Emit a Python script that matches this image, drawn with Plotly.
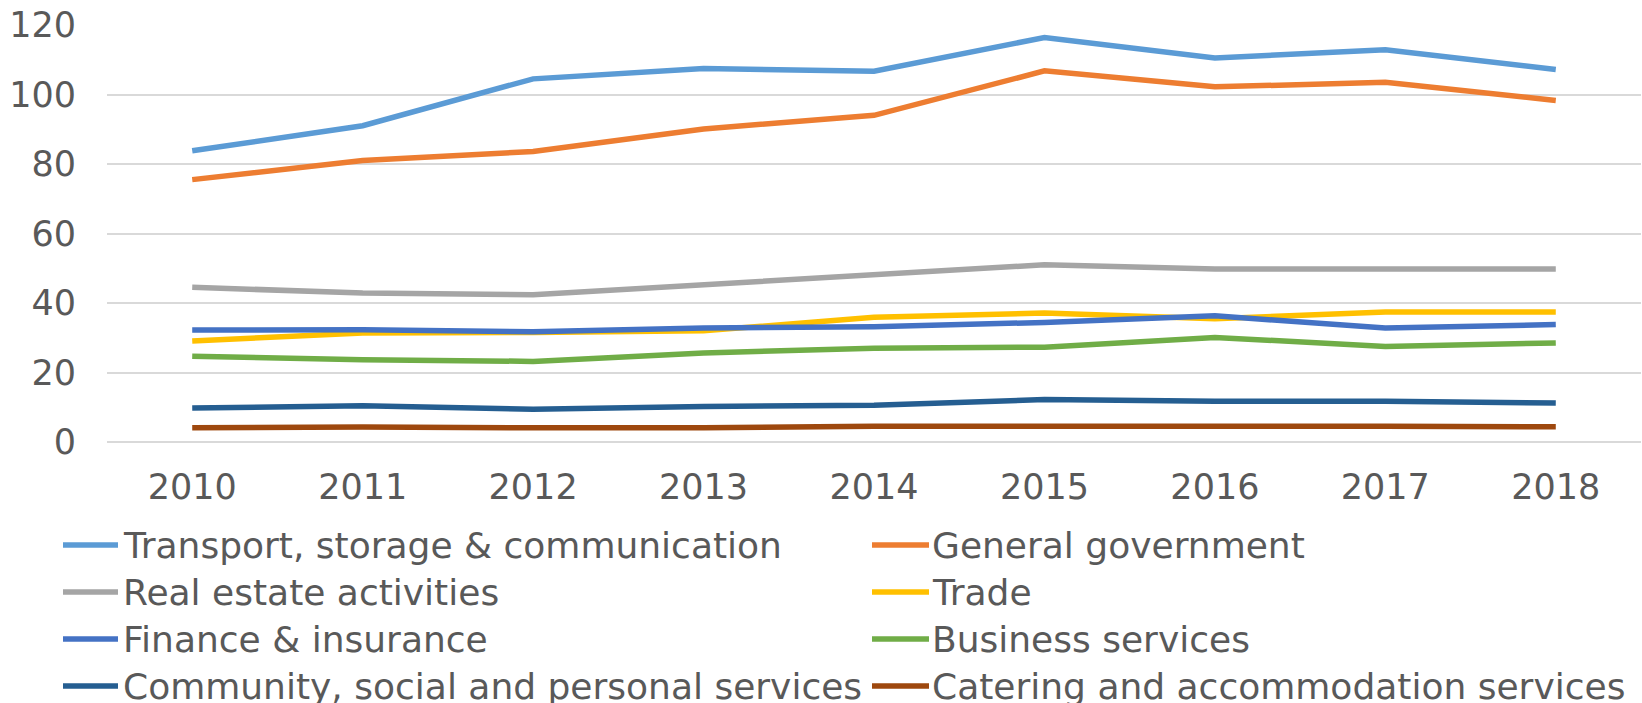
import plotly.graph_objects as go

# Years on the category axis
years = ["2010", "2011", "2012", "2013", "2014", "2015", "2016", "2017", "2018"]

# Series values by sector
transport = [83.8, 91.0, 104.5, 107.5, 106.7, 116.4, 110.5, 112.9, 107.2]
general_gov = [75.5, 81.0, 83.6, 90.1, 94.0, 106.8, 102.2, 103.5, 98.3]
real_estate = [44.5, 42.9, 42.4, 45.3, 48.4, 51.0, 49.8, 49.8, 49.8]
trade = [29.1, 31.4, 31.5, 32.0, 35.9, 37.1, 35.5, 37.4, 37.4]
finance = [32.2, 32.3, 31.7, 32.8, 33.2, 34.4, 36.3, 32.8, 33.8]
business = [24.7, 23.7, 23.2, 25.6, 27.0, 27.3, 30.1, 27.5, 28.5]
community = [9.8, 10.4, 9.4, 10.2, 10.6, 12.2, 11.7, 11.7, 11.2]
catering = [4.1, 4.3, 4.1, 4.1, 4.5, 4.6, 4.4, 4.5, 4.4]

series = [
    ("Transport, storage & communication", transport, "#5B9BD5"),
    ("General government", general_gov, "#ED7D31"),
    ("Real estate activities", real_estate, "#A5A5A5"),
    ("Trade", trade, "#FFC000"),
    ("Finance & insurance", finance, "#4472C4"),
    ("Business services", business, "#70AD47"),
    ("Community, social and personal services", community, "#255E91"),
    ("Catering and accommodation services", catering, "#9E480E"),
]

y_ticks = [0, 20, 40, 60, 80, 100, 120]

FONT = "DejaVu Sans"
TEXT = "#595959"
GRID = "#D9D9D9"

# Figure geometry (pixels)
W, H = 1642, 703
ML, MR, MT, MB = 107, 1, 25, 261
PW, PH = W - ML - MR, H - MT - MB


def px_x(px):
    return (px - ML) / PW


def px_y(py):
    return (H - MB - py) / PH


fig = go.Figure()
for name, vals, color in series:
    fig.add_trace(go.Scatter(
        x=years, y=vals, name=name, mode="lines",
        line=dict(color=color, width=5.5),
        showlegend=False,
    ))

# Two-column legend below the plot
col_sym = [(63, 118), (872, 929)]
col_txt = [121, 930]
row_y = [545, 592, 639, 686]
for i, (name, _, color) in enumerate(series):
    r, c = divmod(i, 2)
    fig.add_shape(
        type="line", xref="paper", yref="paper",
        x0=px_x(col_sym[c][0]), x1=px_x(col_sym[c][1]),
        y0=px_y(row_y[r]), y1=px_y(row_y[r]),
        line=dict(color=color, width=5.5),
    )
    fig.add_annotation(
        xref="paper", yref="paper",
        x=px_x(col_txt[c]), y=px_y(row_y[r]),
        xanchor="left", yanchor="middle",
        text=name, showarrow=False,
        font=dict(family=FONT, size=36, color=TEXT),
    )

fig.update_layout(
    width=W, height=H,
    margin=dict(l=ML, r=MR, t=MT, b=MB, autoexpand=False),
    paper_bgcolor="white", plot_bgcolor="white",
    font=dict(family=FONT, size=35, color=TEXT),
    showlegend=False,
    xaxis=dict(
        type="category", range=[-0.5, 8.5],
        showgrid=False, showline=False, zeroline=False,
        ticks="", ticklabelstandoff=21,
        tickfont=dict(family=FONT, size=35, color=TEXT),
    ),
    yaxis=dict(
        range=[0, 120], tickvals=y_ticks,
        showgrid=True, gridcolor=GRID, gridwidth=2,
        zeroline=True, zerolinecolor=GRID, zerolinewidth=2,
        showline=False, ticks="",
        ticklabelstandoff=30,
        tickfont=dict(family=FONT, size=35, color=TEXT),
    ),
)

fig.write_html("out.html")
